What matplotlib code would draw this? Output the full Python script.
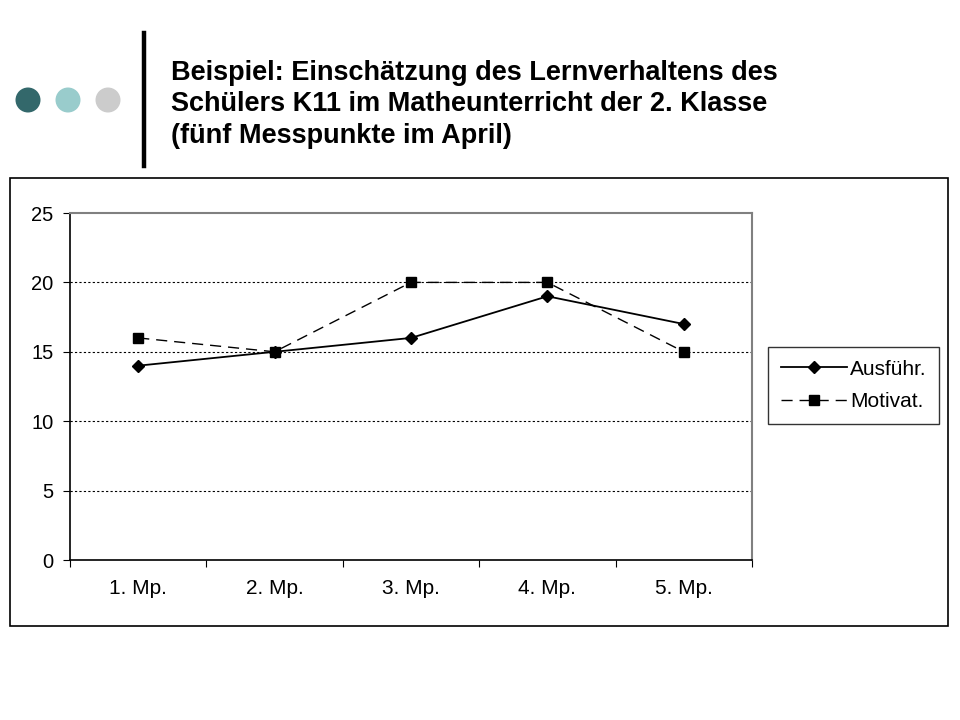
import numpy as np
from matplotlib import pyplot as plt
from matplotlib.patches import Rectangle, Ellipse
from matplotlib.lines import Line2D

plt.rcParams['font.family'] = ['Liberation Sans', 'DejaVu Sans']

# Daten
messpunkte = ['1. Mp.', '2. Mp.', '3. Mp.', '4. Mp.', '5. Mp.']
ausfuehr = [14, 15, 16, 19, 17]
motivat = [16, 15, 20, 20, 15]
y_ticks = [0, 5, 10, 15, 20, 25]

titel = ('Beispiel: Einschätzung des Lernverhaltens des\n'
         'Schülers K11 im Matheunterricht der 2. Klasse\n'
         '(fünf Messpunkte im April)')

fig = plt.figure(figsize=(9.6, 7.2), dpi=100)
W, H = 960, 720

# Kopfbereich: drei Punkte, senkrechter Balken, Titel
for cx, col in [(28, '#33686b'), (68, '#99cccc'), (108, '#cccccc')]:
    fig.patches.append(Ellipse((cx / W, 1 - 100 / H), 25 / W, 25 / H, transform=fig.transFigure,
                               facecolor=col, edgecolor='none'))
fig.add_artist(Line2D([144 / W, 144 / W], [1 - 33 / H, 1 - 166 / H], color='black', lw=3.2))
fig.text(171 / W, 1 - 60 / H, titel, ha='left', va='top', fontsize=19.5, fontweight='bold',
         linespacing=1.27)

# Rahmen um das Diagramm
fig.patches.append(Rectangle((10 / W, 1 - 626 / H), 938 / W, 448 / H, transform=fig.transFigure,
                             fill=False, edgecolor='black', lw=1.2))

ax = fig.add_axes([70 / W, 1 - 560 / H, 682 / W, 347 / H])
x = np.arange(len(messpunkte))
ax.plot(x, ausfuehr, color='black', lw=1.3, marker='D', markersize=6.5, label='Ausführ.')
ax.plot(x, motivat, color='black', lw=1.0, ls=(0, (8, 5)), marker='s', markersize=7,
        label='Motivat.')

ax.set_xlim(-0.5, len(messpunkte) - 0.5)
ax.set_ylim(0, 25)
ax.set_yticks(y_ticks)
ax.set_yticklabels([str(v) for v in y_ticks], fontsize=14.5)
ax.set_xticks(np.arange(-0.5, len(messpunkte), 1.0))
ax.set_xticklabels([])
ax.set_xticks(x, minor=True)
ax.set_xticklabels(messpunkte, minor=True, fontsize=15)
ax.tick_params(axis='x', which='major', direction='out', length=5, color='black')
ax.tick_params(axis='x', which='minor', length=0, pad=14)
ax.tick_params(axis='y', direction='out', length=5, pad=7)
for v in y_ticks[1:-1]:
    ax.axhline(v, color='black', lw=0.8, ls=(0, (2, 2)), zorder=0)
ax.spines['top'].set_color('#808080')
ax.spines['right'].set_color('#808080')
for s in ['top', 'right']:
    ax.spines[s].set_linewidth(1.5)
for s in ['left', 'bottom']:
    ax.spines[s].set_linewidth(1.2)

leg = fig.legend(loc='upper left', bbox_to_anchor=(768 / W, 1 - 347 / H), fontsize=15,
                 frameon=True, fancybox=False, edgecolor='black', borderaxespad=0,
                 handlelength=3.2, handletextpad=0.15, labelspacing=0.65, borderpad=0.6)
leg.get_frame().set_linewidth(1.0)

fig.savefig('out.png', dpi=100)
